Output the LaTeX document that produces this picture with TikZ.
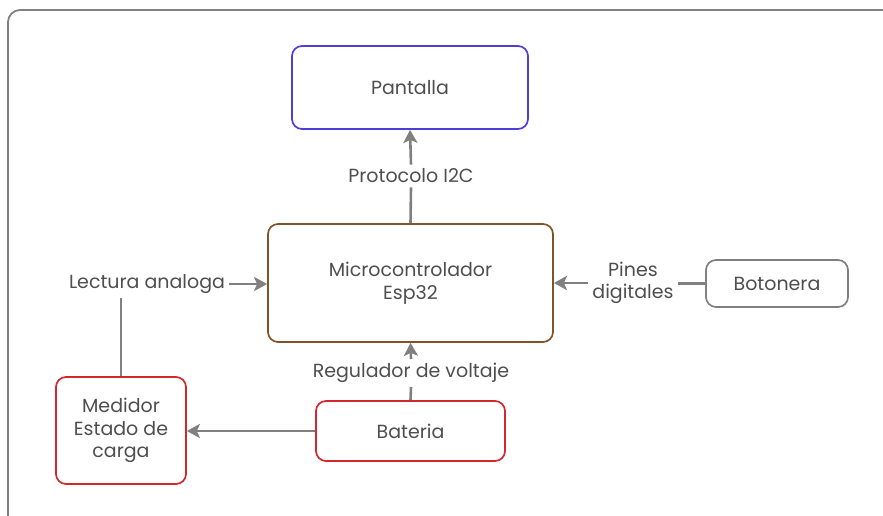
\documentclass[tikz,border=0pt]{standalone}
\usepackage{fontspec}
\setmainfont{Poppins}
\usetikzlibrary{arrows.meta}
\definecolor{pantallablue}{RGB}{76,62,214}
\definecolor{microbrown}{RGB}{128,84,40}
\definecolor{batred}{RGB}{208,40,44}
\definecolor{boxgray}{RGB}{128,128,128}
\definecolor{linegray}{RGB}{128,128,128}
\definecolor{textgray}{RGB}{78,78,78}
\tikzset{
  box/.style={draw, rounded corners=10pt, line width=1.7pt, fill=white, text=textgray, align=center, font=\fontsize{19}{22.5}\selectfont},
  lbl/.style={text=textgray, align=center, inner sep=4pt, font=\fontsize{19}{22.5}\selectfont},
  conn/.style={draw=linegray, line width=2.6pt},
  arr/.style={conn, -{Stealth[length=13pt,width=14pt,inset=3pt]}},
  frame/.style={draw=linegray, line width=1.8pt, rounded corners=12pt}
}
\begin{document}
\begin{tikzpicture}[x=1pt,y=-1pt]
  \useasboundingbox (0,0) rectangle (883,515);
  \draw[frame] (8,10) rectangle (905,540);
  % bloques
  \node[box, draw=pantallablue, minimum width=236pt, minimum height=83pt] (pantalla) at (410,87.5) {Pantalla};
  \node[box, draw=microbrown, minimum width=285pt, minimum height=118pt] (micro) at (410.5,283) {Microcontrolador\\Esp32};
  \node[box, draw=boxgray, minimum width=142pt, minimum height=47pt] (botonera) at (777,283.5) {Botonera};
  \node[box, draw=batred, minimum width=130pt, minimum height=107pt] (medidor) at (121,430.5) {Medidor\\Estado de\\carga};
  \node[box, draw=batred, minimum width=189pt, minimum height=60pt] (bateria) at (410.5,431) {Bateria};
  % etiquetas
  \node[lbl] (i2c) at (411,176) {Protocolo I2C};
  \node[lbl] (lectura) at (147,284) {Lectura analoga};
  \node[lbl] (pines) at (633,283) {Pines\\digitales};
  \node[lbl] (regulador) at (411,373) {Regulador de voltaje};
  % conexiones
  \draw[conn] (micro.north) -- (i2c.south);
  \draw[arr] (i2c.north) -- (pantalla.south);
  \draw[conn] (medidor.north) -- (medidor.north |- lectura.south);
  \draw[arr] (lectura.east) -- (lectura.east -| micro.west);
  \draw[conn] (botonera.west) -- (pines.east |- botonera.west);
  \draw[arr] (pines.west |- micro.east) -- (micro.east);
  \draw[conn] (bateria.north) -- (regulador.south);
  \draw[arr] (regulador.north) -- (micro.south);
  \draw[arr] (bateria.west) -- (bateria.west -| medidor.east);
\end{tikzpicture}
\end{document}
